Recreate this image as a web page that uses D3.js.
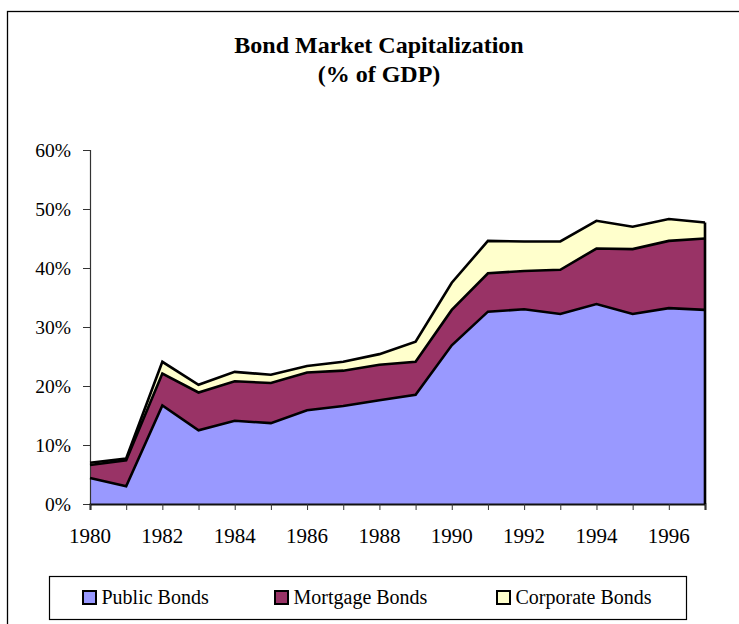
<!DOCTYPE html>
<html>
<head>
<meta charset="utf-8">
<script src="https://cdn.jsdelivr.net/npm/d3@7"></script>
<style>
  html, body { margin: 0; padding: 0; background: #fff; }
  svg { display: block; font-family: "Liberation Serif", "Times New Roman", serif; }
</style>
</head>
<body>
<svg id="chart" width="739" height="624"></svg>
<script>
const years = [1980,1981,1982,1983,1984,1985,1986,1987,1988,1989,1990,1991,1992,1993,1994,1995,1996,1997];
const publicBonds    = [4.4,3.0,16.7,12.5,14.1,13.7,15.9,16.6,17.6,18.5,26.9,32.6,33.0,32.2,33.9,32.2,33.2,32.9];
const mortgageBonds  = [2.2,4.4,5.4,6.4,6.7,6.8,6.4,6.0,6.0,5.6,6.0,6.5,6.5,7.5,9.4,11.0,11.4,12.1];
const corporateBonds = [0.4,0.3,2.0,1.3,1.6,1.4,1.1,1.5,1.8,3.4,4.6,5.5,5.0,4.8,4.7,3.8,3.7,2.7];
const seriesNames = ["Public Bonds","Mortgage Bonds","Corporate Bonds"];
const seriesColors = ["#9999FF","#993366","#FFFFCC"];
const yTicks = [0,10,20,30,40,50,60];
const xLabelYears = [1980,1982,1984,1986,1988,1990,1992,1994,1996];
const titleLines = ["Bond Market Capitalization","(% of GDP)"];

const svg = d3.select("#chart");

// outer frame
svg.append("rect").attr("x",7.5).attr("y",11.5).attr("width",800).attr("height",700)
  .attr("fill","none").attr("stroke","#000").attr("stroke-width",1.3);

// title
svg.append("g").selectAll("text").data(titleLines).join("text")
  .attr("x",379).attr("y",(d,i)=>53+i*29)
  .attr("text-anchor","middle").attr("font-weight","bold").attr("font-size",24)
  .attr("font-family","Liberation Serif, serif")
  .text(d=>d);

const x = d3.scaleLinear().domain([1980,1997]).range([90,705]);
const y = d3.scaleLinear().domain([0,60]).range([504,150]);

const table = years.map((yr,i)=>({year:yr, "Public Bonds":publicBonds[i], "Mortgage Bonds":mortgageBonds[i], "Corporate Bonds":corporateBonds[i]}));
const stacked = d3.stack().keys(seriesNames)(table);

const area = d3.area().x(d=>x(d.data.year)).y0(d=>y(d[0])).y1(d=>y(d[1]));
const line = d3.line().x(d=>x(d.data.year)).y(d=>y(d[1]));

svg.append("g").selectAll("path").data(stacked).join("path")
  .attr("d",area).attr("fill",(d,i)=>seriesColors[i]);

// y axis
const yAxis = svg.append("g").attr("transform","translate(90,0)")
  .call(d3.axisLeft(y).tickValues(yTicks).tickSize(7).tickPadding(12).tickFormat(d=>d+"%"));
yAxis.select(".domain").attr("stroke","#333").attr("stroke-width",1.2);
yAxis.selectAll(".tick line").attr("stroke","#333");
yAxis.selectAll("text").attr("font-size",19.5).attr("font-family","Liberation Serif, serif").attr("fill","#000").attr("dy","0.35em");

// x axis
const xAxis = svg.append("g").attr("transform","translate(0,504)")
  .call(d3.axisBottom(x).tickValues(years).tickSize(6).tickFormat(""));
xAxis.select(".domain").attr("stroke","#111").attr("stroke-width",2);
xAxis.selectAll(".tick line").attr("stroke","#333");
xAxis.append("g").selectAll("text").data(xLabelYears).join("text")
  .attr("x",d=>x(d)).attr("y",39).attr("text-anchor","middle")
  .attr("font-size",21).attr("font-family","Liberation Serif, serif").attr("fill","#000")
  .text(d=>d);

// series outlines
svg.append("g").selectAll("path").data(stacked).join("path")
  .attr("d",line).attr("fill","none").attr("stroke","#000").attr("stroke-width",2.6)
  .attr("stroke-linejoin","miter");
const last = stacked[stacked.length-1][years.length-1];
svg.append("line").attr("x1",x(1997)).attr("x2",x(1997)).attr("y1",y(0)).attr("y2",y(last[1]))
  .attr("stroke","#000").attr("stroke-width",2.6);

// legend
const legend = svg.append("g");
legend.append("rect").attr("x",49.5).attr("y",576.5).attr("width",637).attr("height",43)
  .attr("fill","#fff").attr("stroke","#000").attr("stroke-width",1.2);
const legendX = [83, 275, 497];
const items = legend.selectAll("g.item").data(seriesNames).join("g").attr("class","item")
  .attr("transform",(d,i)=>`translate(${legendX[i]},0)`);
items.append("rect").attr("x",0).attr("y",591).attr("width",13).attr("height",13)
  .attr("fill",(d,i)=>seriesColors[i]).attr("stroke","#000").attr("stroke-width",2);
items.append("text").attr("x",18.5).attr("y",603.5).attr("font-size",20)
  .attr("font-family","Liberation Serif, serif").text(d=>d);
</script>
</body>
</html>
